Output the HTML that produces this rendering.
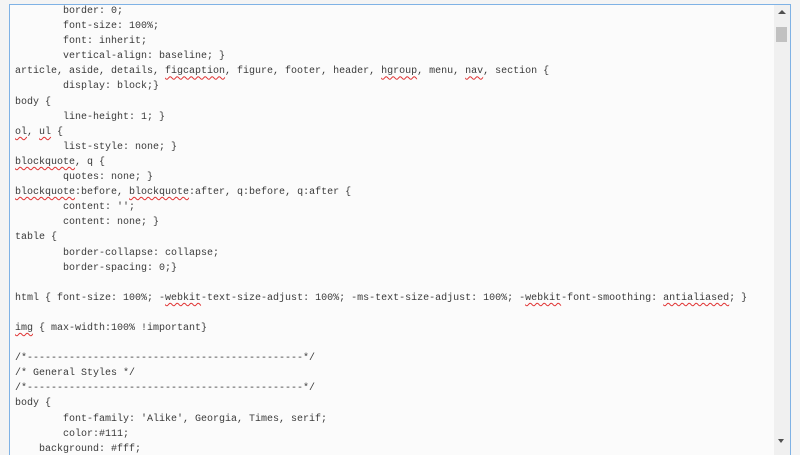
<!DOCTYPE html>
<html><head><style>
html,body{margin:0;padding:0;width:800px;height:450px;overflow:hidden;background:#f4f4f4;}
.box{position:absolute;left:9px;top:4px;width:780px;height:450px;border:1px solid #7fb2e5;border-bottom:none;background:#fbfbfb;overflow:hidden;}
pre{position:absolute;left:5px;top:-1px;margin:0;font-family:"Liberation Mono",monospace;font-size:10px;line-height:15.1px;color:#3a3a3a;tab-size:8;}
.s{text-decoration:underline wavy #e03030;text-decoration-thickness:1px;text-underline-offset:2px;}
.sb{position:absolute;left:764px;top:0;width:16px;height:450px;background:#f0f0f0;}
.thumb{position:absolute;left:2px;top:22px;width:11px;height:15px;background:#c1c1c1;}
.up{position:absolute;left:4px;top:5px;width:0;height:0;border-left:4px solid transparent;border-right:4px solid transparent;border-bottom:4px solid #505050;}
.dn{position:absolute;left:4px;top:434px;width:0;height:0;border-left:3px solid transparent;border-right:3px solid transparent;border-top:4px solid #505050;}
</style></head><body>
<div class="box">
<pre>        border: 0;
        font-size: 100%;
        font: inherit;
        vertical-align: baseline; }
article, aside, details, <span class="s">figcaption</span>, figure, footer, header, <span class="s">hgroup</span>, menu, <span class="s">nav</span>, section {
        display: block;}
body {
        line-height: 1; }
<span class="s">ol</span>, <span class="s">ul</span> {
        list-style: none; }
<span class="s">blockquote</span>, q {
        quotes: none; }
<span class="s">blockquote</span>:before, <span class="s">blockquote</span>:after, q:before, q:after {
        content: '';
        content: none; }
table {
        border-collapse: collapse;
        border-spacing: 0;}

html { font-size: 100%; -<span class="s">webkit</span>-text-size-adjust: 100%; -ms-text-size-adjust: 100%; -<span class="s">webkit</span>-font-smoothing: <span class="s">antialiased</span>; }

<span class="s">img</span> { max-width:100% !important}

/*----------------------------------------------*/
/* General Styles */
/*----------------------------------------------*/
body {
        font-family: 'Alike', Georgia, Times, serif;
        color:#111;
    background: #fff;
</pre>
<div class="sb"><div class="up"></div><div class="thumb"></div><div class="dn"></div></div>
</div>
</body></html>
